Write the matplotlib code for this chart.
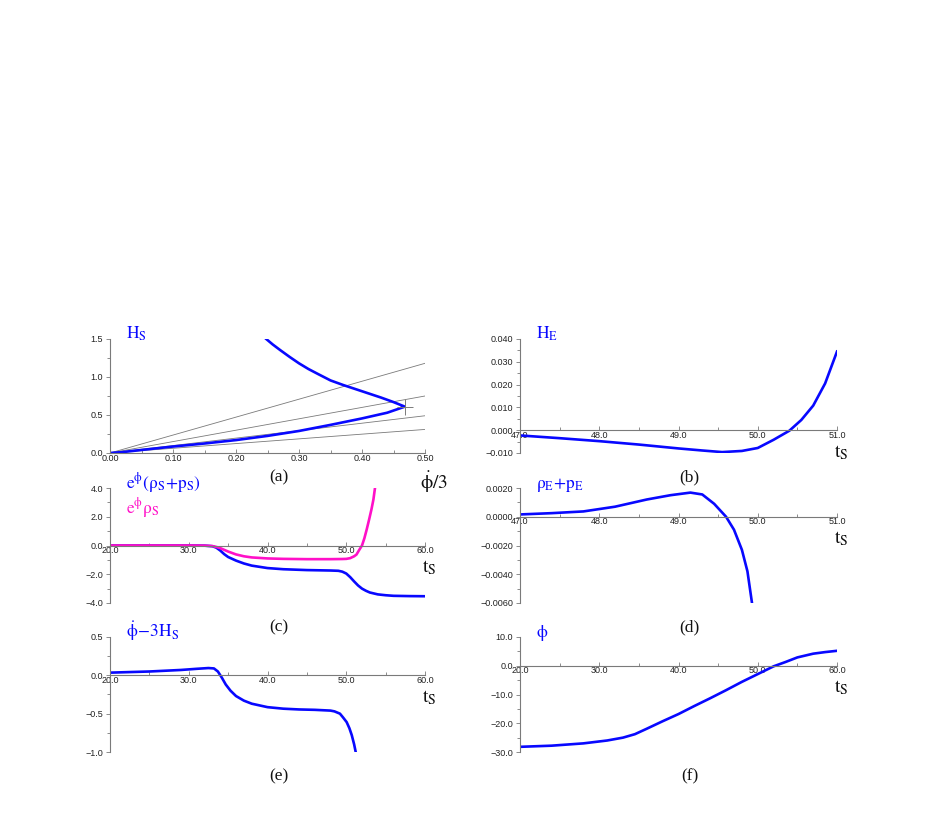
import matplotlib
matplotlib.use("Agg")
import matplotlib.pyplot as plt
from matplotlib.ticker import MultipleLocator, FuncFormatter

plt.rcParams['mathtext.fontset'] = 'stix'
plt.rcParams['font.family'] = ['Liberation Sans', 'DejaVu Sans']

BLUE = '#0808ff'
MAGENTA = '#ff10c8'
GRAY = '#7a7a7a'

# ---- data ----
# (a) H_S vs phidot/3
a_x = [0.0, 0.02, 0.05, 0.10, 0.15, 0.20, 0.25, 0.30, 0.35, 0.40, 0.44, 0.468,
       0.45, 0.43, 0.41, 0.39, 0.37, 0.35, 0.33, 0.315, 0.30, 0.285, 0.27, 0.258, 0.248]
a_y = [0.0, 0.012, 0.04, 0.085, 0.125, 0.17, 0.225, 0.29, 0.37, 0.455, 0.53, 0.61,
       0.67, 0.73, 0.785, 0.84, 0.895, 0.955, 1.04, 1.105, 1.18, 1.265, 1.355, 1.43, 1.5]
a_ref_x = [0.0, 0.5]
a_ref_end = [1.18, 0.75, 0.49, 0.31]
a_cusp = (0.468, 0.61)

# (b) H_E vs t_S
b_t = [47.0, 47.5, 48.0, 48.5, 49.0, 49.3, 49.55, 49.8, 50.0, 50.2, 50.4, 50.55, 50.7, 50.85, 51.0]
b_v = [-0.0023, -0.0035, -0.0048, -0.0063, -0.0080, -0.0089, -0.0096, -0.0091, -0.0078,
       -0.0042, -0.0002, 0.0045, 0.0108, 0.0205, 0.0345]

# (c) e^phi(rho_S+p_S), e^phi rho_S vs t_S
c_t1 = [20, 25, 30, 32, 33, 33.5, 34, 34.5, 35, 36, 37, 38, 40, 42, 45, 48, 49, 49.5,
        50, 50.5, 51, 51.5, 52, 52.5, 53, 54, 55, 56, 58, 60]
c_v1 = [0, 0, 0, -0.01, -0.05, -0.15, -0.35, -0.6, -0.8, -1.05, -1.25, -1.4, -1.57, -1.65,
        -1.71, -1.74, -1.76, -1.82, -1.95, -2.2, -2.5, -2.78, -3.0, -3.15, -3.27, -3.4,
        -3.46, -3.5, -3.52, -3.53]
c_t2 = [20, 25, 30, 32, 33, 33.5, 34, 34.5, 35, 36, 37, 38, 40, 42, 45, 48, 49.5, 50,
        50.5, 51, 51.3, 51.6, 52, 52.3, 52.6, 52.9, 53.2, 53.45, 53.65]
c_v2 = [0, 0, 0, -0.01, -0.04, -0.1, -0.18, -0.3, -0.42, -0.62, -0.75, -0.83, -0.9, -0.93,
        -0.95, -0.95, -0.94, -0.93, -0.88, -0.75, -0.63, -0.35, 0.0, 0.5, 1.12, 1.8,
        2.51, 3.2, 4.0]

# (d) rho_E+p_E vs t_S
d_t = [47.0, 47.4, 47.8, 48.2, 48.6, 48.9, 49.15, 49.3, 49.45, 49.55, 49.6, 49.7, 49.8,
       49.87, 49.93]
d_v = [0.00016, 0.00025, 0.00037, 0.0007, 0.0012, 0.0015, 0.00168, 0.00155, 0.0009,
       0.0003, 0.0, -0.0009, -0.0023, -0.0038, -0.0061]

# (e) phidot - 3H_S vs t_S
e_t = [20, 25, 29, 31, 32.5, 33.2, 33.7, 34.2, 34.7, 35.3, 36, 37, 38, 40, 42, 44, 46,
       48, 48.5, 49.2, 49.6, 50.05, 50.4, 50.7, 51.0, 51.2]
e_v = [0.035, 0.05, 0.07, 0.085, 0.095, 0.09, 0.05, -0.03, -0.12, -0.2, -0.27, -0.33,
       -0.37, -0.415, -0.435, -0.445, -0.45, -0.46, -0.47, -0.50, -0.55, -0.61, -0.69,
       -0.78, -0.9, -1.0]

# (f) phi vs t_S
f_t = [20, 24, 28, 31, 33, 34.5, 36, 38, 40, 42, 44, 46, 48, 50, 52, 53.5, 55, 57, 58.5, 60]
f_v = [-28.2, -27.8, -27.0, -26.0, -25.0, -23.8, -21.9, -19.3, -16.8, -14.0, -11.3, -8.5,
       -5.6, -2.9, -0.2, 1.3, 2.9, 4.2, 4.75, 5.2]

fig = plt.figure(figsize=(9.26, 8.17), dpi=100)
W, H = 926.0, 817.0

def make_ax(x0, x1, ytop, ybot):
    return fig.add_axes([x0 / W, 1 - ybot / H, (x1 - x0) / W, (ybot - ytop) / H])

axa = make_ax(110, 425, 339, 453)
axb = make_ax(520, 837, 339, 453)
axc = make_ax(110, 425, 488, 603)
axd = make_ax(520, 837, 488, 603)
axe = make_ax(110, 425, 637, 752)
axf = make_ax(520, 837, 637, 752)

def fmt(spec):
    def f(v, pos):
        s = spec % v
        if s.lstrip('-').strip('0.') == '':
            s = s.lstrip('-')
        return s.replace('-', '\u2212')
    return FuncFormatter(f)

def style(ax, xlim, ylim, xmaj, ymaj, xfmt, yfmt):
    ax.set_xlim(*xlim)
    ax.set_ylim(*ylim)
    for s in ('top', 'right'):
        ax.spines[s].set_visible(False)
    ax.spines['bottom'].set_position(('data', 0))
    for s in ('left', 'bottom'):
        ax.spines[s].set_color(GRAY)
        ax.spines[s].set_linewidth(0.8)
    ax.xaxis.set_major_locator(MultipleLocator(xmaj))
    ax.xaxis.set_minor_locator(MultipleLocator(xmaj / 2))
    ax.yaxis.set_major_locator(MultipleLocator(ymaj))
    ax.yaxis.set_minor_locator(MultipleLocator(ymaj / 2))
    ax.xaxis.set_major_formatter(fmt(xfmt))
    ax.yaxis.set_major_formatter(fmt(yfmt))
    ax.tick_params(axis='x', which='both', direction='in', color=GRAY, width=0.6,
                   labelsize=6.5, pad=0.5, labelcolor='#222222')
    ax.tick_params(axis='x', which='major', length=3)
    ax.tick_params(axis='x', which='minor', length=2)
    ax.tick_params(axis='y', which='both', direction='out', color=GRAY, width=0.6,
                   labelsize=6.5, pad=2.0, labelcolor='#222222')
    ax.tick_params(axis='y', which='major', length=3)
    ax.tick_params(axis='y', which='minor', length=2)
    ax.patch.set_visible(False)

LW = 1.9

# (a)
for yend in a_ref_end:
    axa.plot(a_ref_x, [0, yend], color=GRAY, lw=0.6)
axa.plot(a_x, a_y, color=BLUE, lw=LW, solid_joinstyle='miter')
axa.plot([a_cusp[0]], [a_cusp[1]], marker='+', color=GRAY, ms=12, mew=0.7)
style(axa, (0, 0.5), (0, 1.5), 0.1, 0.5, '%.2f', '%.1f')

# (b)
axb.plot(b_t, b_v, color=BLUE, lw=LW)
style(axb, (47, 51), (-0.010, 0.040), 1.0, 0.010, '%.1f', '%.3f')

# (c)
axc.plot(c_t1, c_v1, color=BLUE, lw=LW)
axc.plot(c_t2, c_v2, color=MAGENTA, lw=LW)
style(axc, (20, 60), (-4, 4), 10, 2, '%.1f', '%.1f')

# (d)
axd.plot(d_t, d_v, color=BLUE, lw=LW)
style(axd, (47, 51), (-0.006, 0.002), 1.0, 0.002, '%.1f', '%.4f')

# (e)
axe.plot(e_t, e_v, color=BLUE, lw=LW)
style(axe, (20, 60), (-1, 0.5), 10, 0.5, '%.1f', '%.1f')

# (f)
axf.plot(f_t, f_v, color=BLUE, lw=LW)
style(axf, (20, 60), (-30, 10), 10, 10, '%.1f', '%.1f')

# titles
tfs = 12.5
axa.text(0.05, 1.0, r'$\mathrm{H_S}$', transform=axa.transAxes, color=BLUE, fontsize=tfs, va='baseline')
axb.text(0.05, 1.0, r'$\mathrm{H_E}$', transform=axb.transAxes, color=BLUE, fontsize=tfs, va='baseline')
axc.text(0.05, 1.0, r'$\mathrm{e^{\phi}(\rho_S\!+\!p_S)}$', transform=axc.transAxes,
         color=BLUE, fontsize=tfs, va='baseline')
axc.text(0.05, 0.78, r'$\mathrm{e^{\phi}\rho_S}$', transform=axc.transAxes,
         color=MAGENTA, fontsize=tfs, va='baseline')
axd.text(0.05, 1.0, r'$\mathrm{\rho_E\!+\!p_E}$', transform=axd.transAxes,
         color=BLUE, fontsize=tfs, va='baseline')
axe.text(0.05, 1.0, r'$\mathrm{\dot{\phi}\!-\!3H_S}$', transform=axe.transAxes,
         color=BLUE, fontsize=tfs, va='baseline')
axf.text(0.05, 1.0, r'$\mathrm{\phi}$', transform=axf.transAxes, color=BLUE, fontsize=tfs, va='baseline')

# panel letters
for ax, lab in ((axa, '(a)'), (axb, '(b)'), (axc, '(c)'), (axd, '(d)'), (axe, '(e)'), (axf, '(f)')):
    ax.text(0.535, -0.21, lab, transform=ax.transAxes, ha='center', va='center',
            fontsize=12.5, family='Liberation Serif', color='#111111')

# axis labels
axa.text(1.03, -0.26, r'$\mathrm{\dot{\phi}/3}$', transform=axa.transAxes, ha='center', va='center',
         fontsize=14, color='#111111')
for ax in (axb, axc, axd, axe, axf):
    ax.annotate(r'$\mathrm{t_S}$', xy=(1.0, 0.0), xycoords=('axes fraction', 'data'),
                xytext=(3, -16), textcoords='offset points', ha='center', va='center',
                fontsize=14, color='#111111')

fig.savefig('out.png', dpi=100, facecolor='white')
